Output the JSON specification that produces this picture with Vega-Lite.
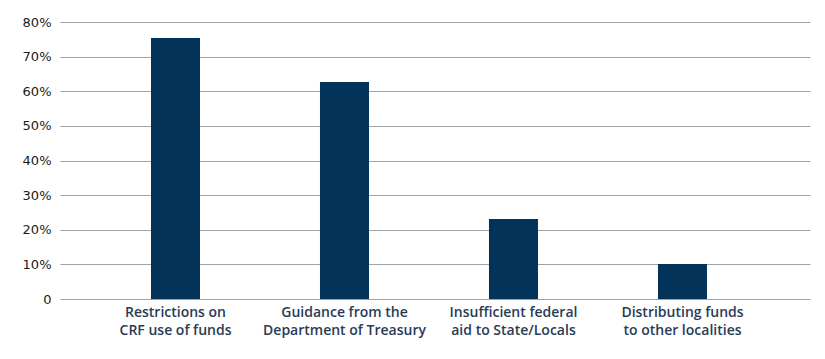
{
  "$schema": "https://vega.github.io/schema/vega-lite/v6.json",
  "width": 750,
  "height": 277,
  "autosize": {"type": "none"},
  "padding": {"left": 60, "top": 22, "right": 15, "bottom": 60},
  "background": "white",
  "data": {
    "values": [
      {"cat": "Restrictions on|CRF use of funds", "pct": 75.4},
      {"cat": "Guidance from the|Department of Treasury", "pct": 62.7},
      {"cat": "Insufficient federal|aid to State/Locals", "pct": 23.1},
      {"cat": "Distributing funds|to other localities", "pct": 10.1}
    ]
  },
  "mark": {"type": "bar", "color": "#033358"},
  "encoding": {
    "x": {
      "field": "cat",
      "type": "nominal",
      "sort": null,
      "title": null,
      "scale": {"paddingInner": 0.71, "paddingOuter": 0.574, "align": 0.469},
      "axis": {
        "domain": false,
        "ticks": false,
        "labelAngle": 0,
        "labelExpr": "split(datum.label, '|')",
        "labelFont": "Open Sans",
        "labelFontSize": 14,
        "labelFontWeight": 600,
        "labelColor": "#2a3b55",
        "labelPadding": 6,
        "labelLineHeight": 18,
        "labelBaseline": "top"
      }
    },
    "y": {
      "field": "pct",
      "type": "quantitative",
      "title": null,
      "scale": {"domain": [0, 80], "nice": false},
      "axis": {
        "values": [0, 10, 20, 30, 40, 50, 60, 70, 80],
        "labelExpr": "datum.value === 0 ? '0' : datum.value + '%'",
        "domain": false,
        "ticks": false,
        "grid": true,
        "gridColor": "#9ea3a8",
        "gridWidth": 1.2,
        "labelFont": "DejaVu Sans",
        "labelFontSize": 13,
        "labelFontWeight": "normal",
        "labelColor": "#1a1a1a",
        "labelPadding": 9
      }
    }
  },
  "config": {"view": {"stroke": null}}
}
